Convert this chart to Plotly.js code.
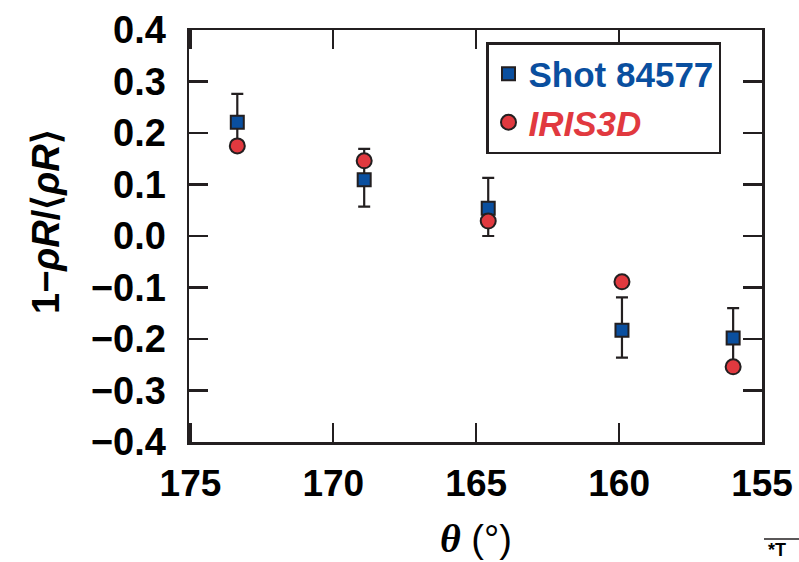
<!DOCTYPE html>
<html>
<head>
<meta charset="utf-8">
<script src="https://cdn.plot.ly/plotly-3.0.1.min.js"></script>
<style>html,body{margin:0;padding:0;background:#fff;}#chart{width:799px;height:562px;}</style>
</head>
<body>
<div id="chart"></div>
<script>
// Data
const theta = [173.36, 168.92, 164.58, 159.90, 156.01];
const shotValues = [0.221, 0.109, 0.054, -0.183, -0.198];
const shotErrPlus = [0.055, 0.060, 0.059, 0.064, 0.058];
const shotErrMinus = [0.055, 0.052, 0.054, 0.053, 0.058];
const irisValues = [0.175, 0.146, 0.029, -0.089, -0.254];
const xTickVals = [175, 170, 165, 160, 155];
const yTickVals = [-0.4, -0.3, -0.2, -0.1, 0.0, 0.1, 0.2, 0.3, 0.4];
const seriesNames = ['Shot 84577', 'IRIS3D'];

const dark = '#231f20';
const blue = '#0a4f9f';
const red = '#e1393f';
const fontFam = 'Liberation Sans, Arial, Helvetica, sans-serif';

const traces = [
  {
    x: theta, y: shotValues, type: 'scatter', mode: 'markers',
    name: '<span style="color:' + blue + '">' + seriesNames[0] + '</span>',
    marker: {symbol: 'square', size: 13, color: blue, line: {color: dark, width: 2}},
    error_y: {type: 'data', symmetric: false, array: shotErrPlus, arrayminus: shotErrMinus,
              color: dark, thickness: 2.2, width: 6}
  },
  {
    x: theta, y: irisValues, type: 'scatter', mode: 'markers',
    name: '<span style="color:' + red + '"><i>' + seriesNames[1] + '</i></span>',
    marker: {symbol: 'circle', size: 15, color: red, line: {color: dark, width: 2}}
  }
];

const L = 189, R = 762, T = 30, B = 442;
const W = R - L, H = B - T;

const layout = {
  width: 799, height: 562,
  margin: {l: L, r: 799 - R, t: T, b: 562 - B, pad: 0},
  paper_bgcolor: '#ffffff', plot_bgcolor: '#ffffff',
  showlegend: true,
  font: {family: fontFam, color: '#000000'},
  xaxis: {
    range: [175.05, 155], autorange: false,
    tickvals: xTickVals, ticktext: xTickVals.map(String),
    ticks: 'inside', ticklen: 19, tickwidth: 2.2, tickcolor: dark,
    showline: true, linecolor: dark, linewidth: 2.5, mirror: 'ticks',
    showgrid: false, zeroline: false,
    tickfont: {family: fontFam, size: 37, weight: 'bold', color: '#000'},
    ticklabelstandoff: 7
  },
  yaxis: {
    range: [-0.4, 0.4], autorange: false,
    tickvals: yTickVals, tickformat: '.1f',
    ticks: 'inside', ticklen: 19, tickwidth: 2.2, tickcolor: dark,
    showline: true, linecolor: dark, linewidth: 2.5, mirror: 'ticks',
    showgrid: false, zeroline: false,
    tickfont: {family: fontFam, size: 38, weight: 'bold', color: '#000'},
    ticklabelstandoff: 13
  },
  legend: {
    x: (486 - L) / W, y: (B - 42) / H, xanchor: 'left', yanchor: 'top',
    bgcolor: '#ffffff', bordercolor: dark, borderwidth: 2.5,
    font: {family: fontFam, size: 35, weight: 'bold'},
    tracegroupgap: 0, itemwidth: 30
  },
  annotations: [
    {
      xref: 'paper', yref: 'paper', x: (46 - L) / W, y: (B - 222) / H,
      xanchor: 'center', yanchor: 'middle', textangle: -90, showarrow: false,
      text: '<b>1−<i>ρR</i>/⟨<i>ρR</i>⟩</b>',
      font: {family: fontFam, size: 38, color: '#000'}
    },
    {
      xref: 'paper', yref: 'paper', x: 0.5, y: -(538 - B) / H,
      xanchor: 'center', yanchor: 'middle', showarrow: false,
      text: '<span style="font-family:Liberation Serif;font-weight:bold;font-style:italic;font-size:40px">θ</span> (°)',
      font: {family: fontFam, size: 38, color: '#000'}
    },
    {
      xref: 'paper', yref: 'paper', x: (766 - L) / W, y: -(550 - B) / H,
      xanchor: 'left', yanchor: 'middle', showarrow: false,
      text: '<b>*T</b>',
      font: {family: fontFam, size: 18, color: '#000'}
    }
  ],
  shapes: [
    {type: 'line', xref: 'paper', yref: 'paper',
     x0: (764 - L) / W, x1: (799 - L) / W, y0: -(539 - B) / H, y1: -(539 - B) / H,
     line: {color: dark, width: 1.5}}
  ]
};

Plotly.newPlot('chart', traces, layout, {staticPlot: true, displayModeBar: false});
</script>
</body>
</html>
